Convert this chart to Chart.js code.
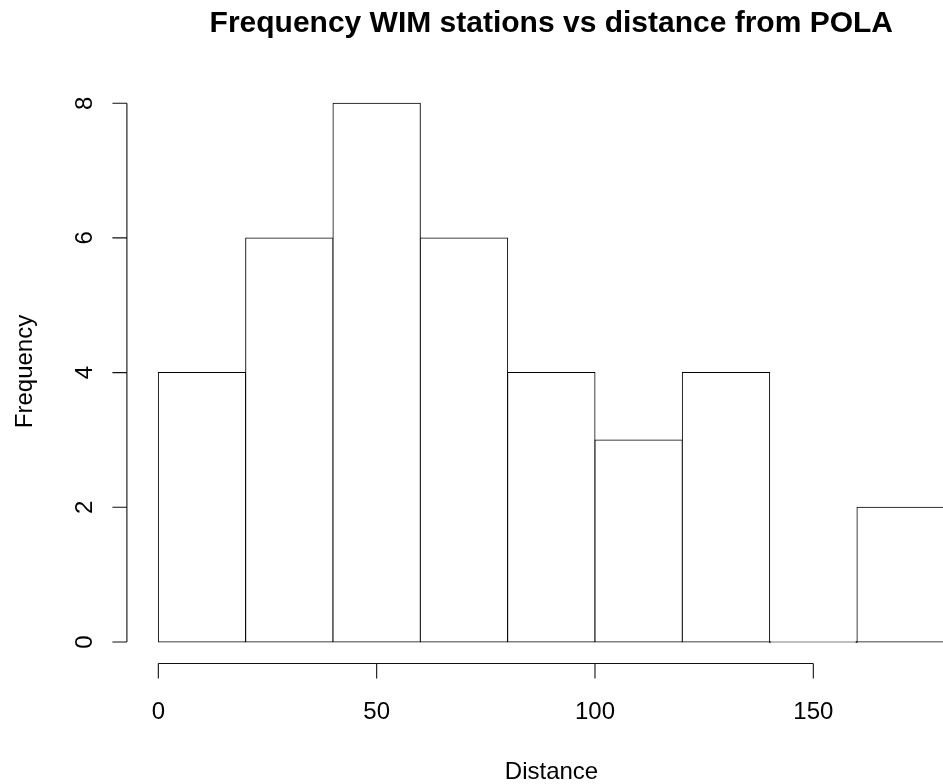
<!DOCTYPE html>
<html>
<head>
<meta charset="utf-8">
<title>Frequency WIM stations vs distance from POLA</title>
<script src="https://cdn.jsdelivr.net/npm/chart.js@4/dist/chart.umd.min.js"></script>
<style>
  html, body { margin: 0; padding: 0; background: #ffffff; }
  #wrap { width: 943px; height: 784px; }
</style>
</head>
<body>
<div id="wrap"><canvas id="histchart" width="943" height="784"></canvas></div>
<script>
// histogram data
const binEdges = [0, 20, 40, 60, 80, 100, 120, 140, 160, 180];
const frequencies = [4, 6, 8, 6, 4, 3, 4, 0, 2];
const xTicks = [0, 50, 100, 150];
const yTicks = [0, 2, 4, 6, 8];

const chartTitle = "Frequency WIM stations vs distance from POLA";
const xTitle = "Distance";
const yTitle = "Frequency";

const FONT = '"Liberation Sans", Arial, Helvetica, sans-serif';

//bin midpoints for the bars
const points = frequencies.map((f, i) => ({
  x: (binEdges[i] + binEdges[i + 1]) / 2,
  y: f,
}));

//R style axes and text
const rAxesPlugin = {
  id: "rAxes",
  afterDraw(chart) {
    const { ctx, chartArea } = chart;
    const xs = chart.scales.x;
    const ys = chart.scales.y;

    ctx.save();
    ctx.strokeStyle = "#111";
    ctx.fillStyle = "#000";
    ctx.lineWidth = 1.1;

    //x axis
    const axY = chartArea.bottom;
    ctx.beginPath();
    ctx.moveTo(xs.getPixelForValue(xTicks[0]), axY);
    ctx.lineTo(xs.getPixelForValue(xTicks[xTicks.length - 1]), axY);
    xTicks.forEach((v) => {
      const px = xs.getPixelForValue(v);
      ctx.moveTo(px, axY);
      ctx.lineTo(px, axY + 15);
    });
    ctx.stroke();

    ctx.font = "24px " + FONT;
    ctx.textAlign = "center";
    ctx.textBaseline = "alphabetic";
    xTicks.forEach((v) => {
      ctx.fillText(String(v), xs.getPixelForValue(v), 718.5);
    });

    //y axis
    const axX = chartArea.left;
    ctx.beginPath();
    ctx.moveTo(axX, ys.getPixelForValue(yTicks[0]));
    ctx.lineTo(axX, ys.getPixelForValue(yTicks[yTicks.length - 1]));
    yTicks.forEach((v) => {
      const py = ys.getPixelForValue(v);
      ctx.moveTo(axX, py);
      ctx.lineTo(axX - 14.5, py);
    });
    ctx.stroke();

    yTicks.forEach((v) => {
      ctx.save();
      ctx.translate(91.5, ys.getPixelForValue(v));
      ctx.rotate(-Math.PI / 2);
      ctx.fillText(String(v), 0, 0);
      ctx.restore();
    });

    //axis titles
    ctx.fillText(xTitle, 551.5, 779);
    ctx.save();
    ctx.translate(32.3, 371.5);
    ctx.rotate(-Math.PI / 2);
    ctx.fillText(yTitle, 0, 0);
    ctx.restore();

    //main title
    ctx.font = "bold 30px " + FONT;
    ctx.fillText(chartTitle, 551.3, 32.3);

    ctx.restore();
  },
};

const ctxHist = document.getElementById("histchart").getContext("2d");
const histChart = new Chart(ctxHist, {
  type: "bar",
  data: {
    datasets: [
      {
        label: yTitle,
        data: points,
        backgroundColor: "#ffffff",
        borderColor: "#000000",
        borderWidth: 1,
        borderSkipped: false,
        inflateAmount: 0.5,
        barPercentage: 1,
        categoryPercentage: 1,
        minBarLength: 1,
      },
    ],
  },
  options: {
    responsive: false,
    animation: false,
    devicePixelRatio: 1,
    layout: {
      padding: { left: 126.9, right: 0, top: 81.65, bottom: 120.45 },
    },
    scales: {
      x: {
        type: "linear",
        display: false,
        offset: false,
        min: -7.2,
        max: 179.7,
        //ticks on the bin edges so bars take the full bin width
        ticks: { stepSize: 20, includeBounds: false },
      },
      y: {
        type: "linear",
        display: false,
        min: -0.32,
        max: 8.32,
      },
    },
    plugins: {
      legend: { display: false },
      tooltip: { enabled: false },
      title: { display: false },
    },
  },
  plugins: [rAxesPlugin],
});
</script>
</body>
</html>
